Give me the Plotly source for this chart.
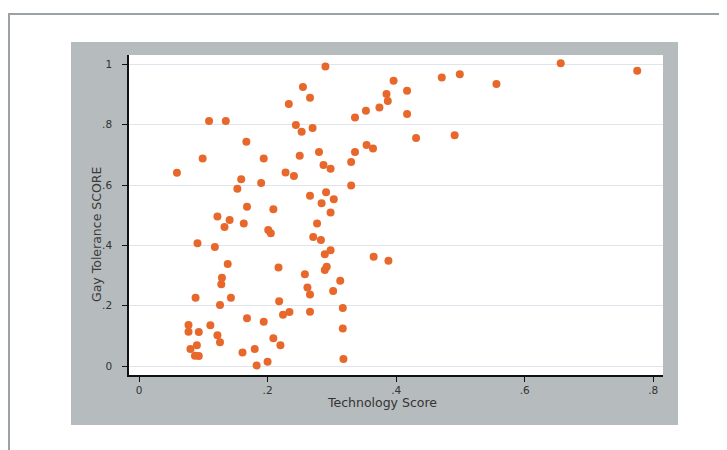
import plotly.graph_objects as go

tech_score = [
    0.290, 0.255, 0.266, 0.233, 0.109, 0.135, 0.244, 0.253, 0.270, 0.167,
    0.099, 0.194, 0.250, 0.280, 0.287, 0.298, 0.059, 0.228, 0.241, 0.159,
    0.153, 0.190, 0.266, 0.291, 0.330, 0.303, 0.284, 0.298, 0.168, 0.209,
    0.122, 0.141, 0.163, 0.133, 0.277, 0.201, 0.205, 0.271, 0.283, 0.091,
    0.118, 0.289, 0.298, 0.365, 0.138, 0.217, 0.292, 0.289, 0.129, 0.258,
    0.313, 0.128, 0.262, 0.302, 0.266, 0.088, 0.143, 0.126, 0.218, 0.317,
    0.224, 0.234, 0.266, 0.168, 0.194, 0.077, 0.111, 0.317, 0.077, 0.093,
    0.122, 0.209, 0.126, 0.220, 0.090, 0.080, 0.161, 0.180, 0.087, 0.093,
    0.318, 0.200, 0.183, 0.396, 0.471, 0.499, 0.556, 0.385, 0.387, 0.417,
    0.374, 0.353, 0.336, 0.417, 0.431, 0.491, 0.354, 0.364, 0.336, 0.330,
    0.388, 0.656, 0.775,
]
gay_tolerance = [
    0.993, 0.925, 0.890, 0.869, 0.813, 0.813, 0.799, 0.777, 0.789, 0.744,
    0.688, 0.688, 0.697, 0.710, 0.667, 0.654, 0.641, 0.642, 0.630, 0.619,
    0.588, 0.607, 0.565, 0.576, 0.599, 0.553, 0.540, 0.509, 0.528, 0.520,
    0.496, 0.484, 0.473, 0.461, 0.473, 0.451, 0.440, 0.428, 0.418, 0.407,
    0.395, 0.371, 0.384, 0.362, 0.338, 0.327, 0.329, 0.318, 0.293, 0.304,
    0.283, 0.271, 0.260, 0.249, 0.237, 0.226, 0.226, 0.202, 0.215, 0.192,
    0.170, 0.179, 0.180, 0.158, 0.147, 0.136, 0.135, 0.124, 0.114, 0.113,
    0.102, 0.092, 0.079, 0.069, 0.069, 0.056, 0.045, 0.056, 0.034, 0.033,
    0.023, 0.014, 0.002, 0.946, 0.957, 0.968, 0.935, 0.902, 0.879, 0.913,
    0.857, 0.847, 0.824, 0.836, 0.756, 0.765, 0.733, 0.721, 0.710, 0.677,
    0.349, 1.004, 0.979,
]

x_tick_vals = [0, 0.2, 0.4, 0.6, 0.8]
x_tick_text = ["0", ".2", ".4", ".6", ".8"]
y_tick_vals = [0, 0.2, 0.4, 0.6, 0.8, 1.0]
y_tick_text = ["0", ".2", ".4", ".6", ".8", "1"]

FONT = "DejaVu Sans"
OFF = 8  # page body margin of the html output
W, H = 727 - OFF, 450 - OFF
# plot area in page pixels
L, R, T, B = 129, 663, 55, 375


def px(x):
    return (x - L) / (R - L)


def py(y):
    return (B - y) / (B - T)


fig = go.Figure()
fig.add_trace(go.Scatter(
    x=tech_score, y=gay_tolerance, mode="markers",
    marker=dict(size=8, color="#e8682c", line=dict(width=0)),
    hoverinfo="x+y", showlegend=False,
))

shapes = [
    # grey outer panel
    dict(type="rect", xref="paper", yref="paper", layer="below",
         x0=px(71), x1=px(678), y0=py(425), y1=py(42),
         fillcolor="#b6bbbe", line=dict(width=0)),
    # white plot region
    dict(type="rect", xref="paper", yref="paper", layer="below",
         x0=0, x1=1, y0=0, y1=1,
         fillcolor="#ffffff", line=dict(width=0)),
    # outer frame lines
    dict(type="line", xref="paper", yref="paper", layer="below",
         x0=px(8), x1=px(740), y0=py(14), y1=py(14),
         line=dict(color="#9ba1a4", width=2)),
    dict(type="line", xref="paper", yref="paper", layer="below",
         x0=px(9), x1=px(9), y0=py(13), y1=py(460),
         line=dict(color="#9ba1a4", width=2)),
]

annotations = [
    dict(text="Technology Score", xref="paper", yref="paper",
         x=px(382), y=py(402), showarrow=False,
         xanchor="center", yanchor="middle",
         font=dict(family=FONT, size=12.5, color="#333333")),
    dict(text="Gay Tolerance SCORE", xref="paper", yref="paper",
         x=px(96), y=py(235), showarrow=False, textangle=-90,
         xanchor="center", yanchor="middle",
         font=dict(family=FONT, size=12.5, color="#3a3a3a")),
]

fig.update_layout(
    width=W, height=H,
    margin=dict(l=L - OFF, r=(W + OFF) - R, t=T - OFF, b=(H + OFF) - B, pad=0),
    paper_bgcolor="white", plot_bgcolor="white",
    font=dict(family=FONT, size=10, color="#333333"),
    shapes=shapes, annotations=annotations,
    xaxis=dict(
        range=[-0.01556, 0.8151], tickmode="array",
        tickvals=x_tick_vals, ticktext=x_tick_text,
        showgrid=False, zeroline=False,
        showline=True, linecolor="#111111", linewidth=1.5,
        ticks="outside", ticklen=5, tickcolor="#111111", tickwidth=1,
        tickfont=dict(family=FONT, size=10.5, color="#333333"),
    ),
    yaxis=dict(
        range=[-0.02985, 1.0315], tickmode="array",
        tickvals=y_tick_vals, ticktext=y_tick_text,
        showgrid=True, gridcolor="#dfe5ec", gridwidth=1.2, zeroline=False,
        showline=True, linecolor="#111111", linewidth=1.5,
        ticks="outside", ticklen=5, tickcolor="#111111", tickwidth=1,
        ticklabelstandoff=8,
        tickfont=dict(family=FONT, size=10.5, color="#333333"),
    ),
)

fig.write_html("out.html")
